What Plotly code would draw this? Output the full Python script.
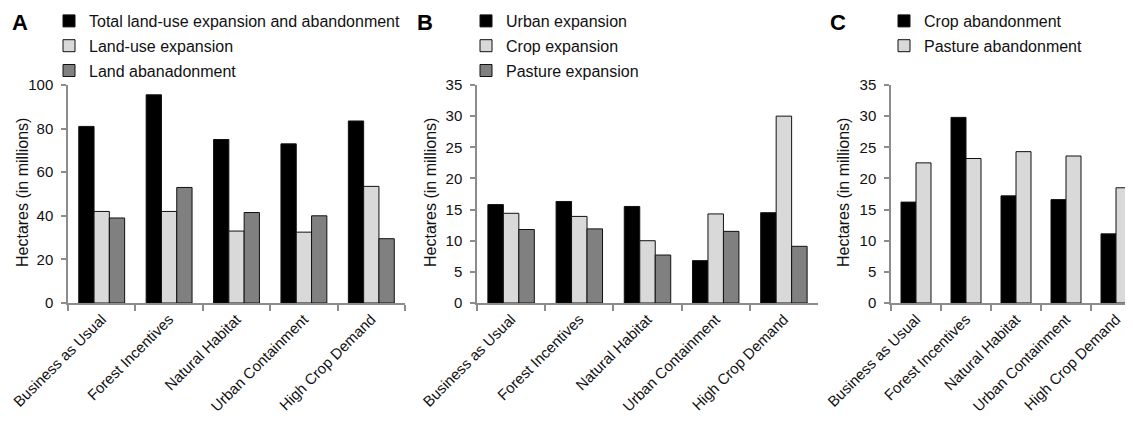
import plotly.graph_objects as go

scenarios = ["Business as Usual", "Forest Incentives", "Natural Habitat",
             "Urban Containment", "High Crop Demand"]

# Panel A
a_total = [81, 95.5, 75, 73, 83.5]
a_expansion = [42, 42, 33, 32.5, 53.5]
a_abandon = [39, 53, 41.5, 40, 29.5]

# Panel B
b_urban = [15.8, 16.3, 15.5, 6.8, 14.5]
b_crop = [14.4, 13.9, 10.0, 14.3, 30.0]
b_pasture = [11.8, 11.9, 7.7, 11.5, 9.1]

# Panel C
c_crop = [16.2, 29.8, 17.2, 16.6, 11.1]
c_pasture = [22.5, 23.2, 24.3, 23.6, 18.5]

W, H = 1133, 421
OFF = 8  # page body margin offset
BLACK = "#000000"
LIGHT = "#d9d9d9"
DARK = "#808080"
FONT = "Liberation Sans, Arial, sans-serif"


def px(x):
    return (x - OFF) / W


def py(y):
    return 1 - (y - OFF) / H


fig = go.Figure()


def add_bars(names, series, colors, xa, ya, legend, width):
    n = len(series)
    for i, (nm, vals, col) in enumerate(zip(names, series, colors)):
        fig.add_trace(go.Bar(
            x=scenarios, y=vals, name=nm, xaxis=xa, yaxis=ya,
            marker=dict(color=col, line=dict(color="#111111", width=1)),
            width=width, offset=-n * width / 2 + i * width,
            legend=legend, legendgroup=nm, showlegend=True,
        ))


add_bars(["Total land-use expansion and abandonment", "Land-use expansion", "Land abanadonment"],
         [a_total, a_expansion, a_abandon], [BLACK, LIGHT, DARK], "x", "y", "legend", 0.227)
add_bars(["Urban expansion", "Crop expansion", "Pasture expansion"],
         [b_urban, b_crop, b_pasture], [BLACK, LIGHT, DARK], "x2", "y2", "legend2", 0.227)
add_bars(["Crop abandonment", "Pasture abandonment"],
         [c_crop, c_pasture], [BLACK, LIGHT], "x3", "y3", "legend3", 0.3)

ydom = [py(303), py(85)]
axis_gray = "#8c8c8c"


def xaxis(dom, rng, anchor):
    return dict(domain=dom, range=rng, anchor=anchor, type="category",
                showline=True, linecolor=axis_gray, linewidth=1.5,
                ticks="outside", tickson="boundaries", ticklen=6, tickcolor=axis_gray,
                tickwidth=1.5, tickangle=-45, tickfont=dict(size=15, color="#111"),
                showgrid=False, zeroline=False, fixedrange=True, automargin=False)


def yaxis(rng, dtick, anchor):
    return dict(domain=ydom, range=rng, dtick=dtick, anchor=anchor,
                showline=True, linecolor=axis_gray, linewidth=1.5,
                ticks="outside", ticklen=5, tickcolor=axis_gray, tickwidth=1.5,
                ticklabelstandoff=5,
                tickfont=dict(size=15, color="#111"), showgrid=False, zeroline=False,
                automargin=False)


legend_common = dict(bgcolor="rgba(0,0,0,0)", font=dict(size=16, color="#111", family=FONT),
                     traceorder="grouped", tracegroupgap=1, xanchor="left", yanchor="top",
                     itemclick=False, itemdoubleclick=False)

fig.update_layout(
    width=W, height=H,
    margin=dict(l=0, r=0, t=0, b=0, pad=0, autoexpand=False),
    paper_bgcolor="white", plot_bgcolor="white",
    font=dict(family=FONT, color="#111"),
    barmode="overlay",
    xaxis=xaxis([px(68), px(405)], [-0.5, 4.5], "y"),
    yaxis=yaxis([0, 100], 20, "x"),
    xaxis2=xaxis([px(477), px(818)], [-0.5, 4.5], "y2"),
    yaxis2=yaxis([0, 35], 5, "x2"),
    xaxis3=xaxis([px(891), px(1141)], [-0.5, 4.5], "y3"),
    yaxis3=yaxis([0, 35], 5, "x3"),
    legend=dict(x=px(49), y=py(4), **legend_common),
    legend2=dict(x=px(466), y=py(4), **legend_common),
    legend3=dict(x=px(884), y=py(4), **legend_common),
    showlegend=True,
)

for txt, x in [("A", 20), ("B", 425), ("C", 838)]:
    fig.add_annotation(text="<b>%s</b>" % txt, x=px(x), y=1.0, xref="paper", yref="paper",
                       showarrow=False, font=dict(size=22, color="#000", family=FONT),
                       xanchor="center", yanchor="top")

for x in [22, 430, 843]:
    fig.add_annotation(text="Hectares (in millions)", x=px(x), y=py(193),
                       xref="paper", yref="paper", showarrow=False, textangle=-90,
                       font=dict(size=16, color="#111", family=FONT),
                       xanchor="center", yanchor="middle")

fig.write_html("out.html")
